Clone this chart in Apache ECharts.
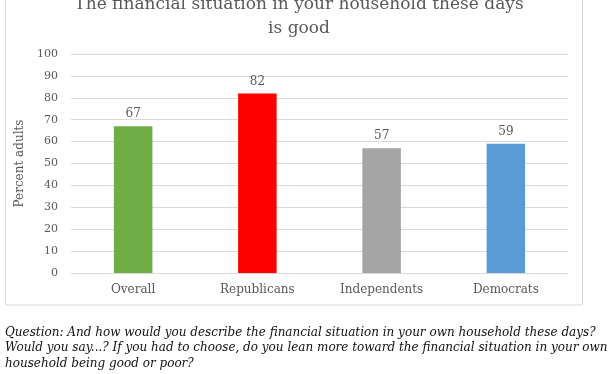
<!DOCTYPE html>
<html>
<head>
<meta charset="utf-8">
<script src="https://cdn.jsdelivr.net/npm/echarts@6/dist/echarts.min.js"></script>
<style>html,body{margin:0;padding:0;background:#fff;}#c{width:612px;height:374px;}</style>
</head>
<body>
<div id="c"></div>
<script>
const categories = ['Overall', 'Republicans', 'Independents', 'Democrats'];
const values = [67, 82, 57, 59];
const barColors = ['#70ad47', '#ff0000', '#a5a5a5', '#5b9bd5'];
const yTicks = [0, 10, 20, 30, 40, 50, 60, 70, 80, 90, 100];
const titleText = 'The financial situation in your household these days\nis good';
const yAxisName = 'Percent adults';
const footnote = 'Question: And how would you describe the financial situation in your own household these days?\nWould you say...? If you had to choose, do you lean more toward the financial situation in your own\nhousehold being good or poor?';

const chart = echarts.init(document.getElementById('c'));
const serif = '"DejaVu Serif", serif';
chart.setOption({
  animation: false,
  backgroundColor: '#fff',
  graphic: [{
    type: 'rect', z: -1,
    shape: {x: 5.5, y: -5, width: 577, height: 310},
    style: {fill: '#fff', stroke: '#d9d9d9', lineWidth: 1}
  }],
  title: [{
    text: titleText,
    left: 294, textAlign: 'center', top: -12,
    textStyle: {fontFamily: serif, fontSize: 17, fontWeight: 'normal', color: '#595959', lineHeight: 24}
  }, {
    text: footnote,
    left: 0, top: 320,
    textStyle: {fontFamily: serif, fontStyle: 'italic', fontSize: 12, fontWeight: 'normal', color: '#111', lineHeight: 15.5}
  }],
  grid: {left: 71, right: 44, top: 54, bottom: 101},
  xAxis: {
    type: 'category', data: categories,
    axisLine: {lineStyle: {color: '#d9d9d9'}},
    axisTick: {show: false},
    axisLabel: {fontFamily: serif, fontSize: 12, color: '#595959', margin: 11}
  },
  yAxis: {
    type: 'value', min: yTicks[0], max: yTicks[yTicks.length - 1], interval: 10,
    name: yAxisName, nameLocation: 'middle', nameGap: 38,
    nameTextStyle: {fontFamily: serif, fontSize: 12, color: '#595959'},
    axisLine: {show: false}, axisTick: {show: false},
    axisLabel: {fontFamily: serif, fontSize: 11, color: '#595959', margin: 13},
    splitLine: {lineStyle: {color: '#d9d9d9'}}
  },
  series: [{
    type: 'bar', barWidth: '31%',
    data: values.map((v, i) => ({value: v, itemStyle: {color: barColors[i]}})),
    label: {show: true, position: 'top', distance: 6, fontFamily: serif, fontSize: 12, color: '#595959'}
  }]
});
</script>
</body>
</html>
